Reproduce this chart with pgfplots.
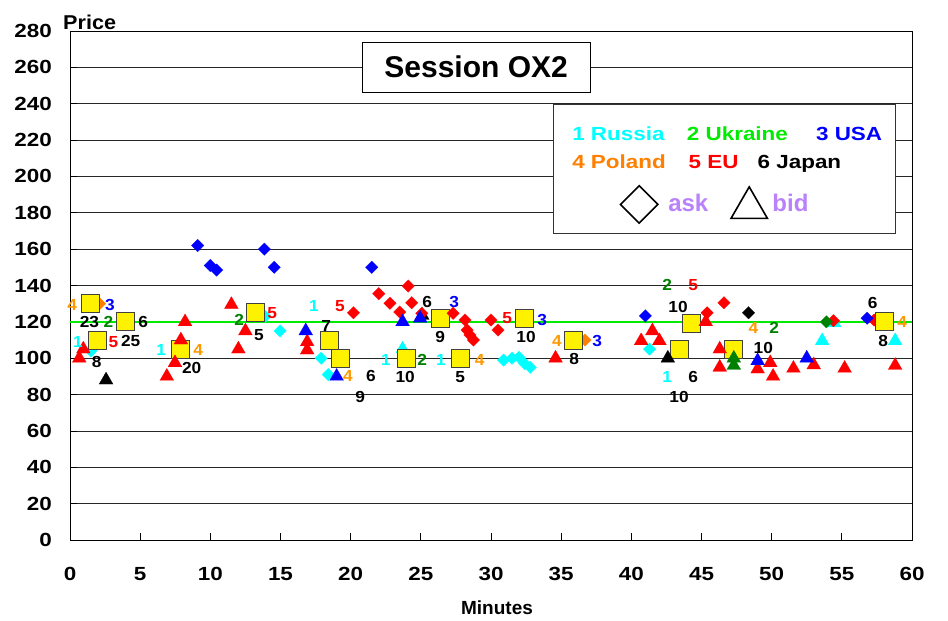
\documentclass[border=0pt]{standalone}
\usepackage{fontspec}
\setmainfont{Liberation Sans}
\newfontfamily\wideA{Liberation Sans}[FakeStretch=1.18]
\newfontfamily\wideB{Liberation Sans}[FakeStretch=1.08]
\usepackage{pgfplots}
\pgfplotsset{compat=1.18}
\usetikzlibrary{shapes.geometric}
\definecolor{cRu}{RGB}{0,255,255}
\definecolor{cUkL}{RGB}{0,235,0}
\definecolor{cUk}{RGB}{0,128,0}
\definecolor{cUS}{RGB}{0,0,255}
\definecolor{cPlL}{RGB}{255,128,0}
\definecolor{cPl}{RGB}{255,153,0}
\definecolor{cEU}{RGB}{255,0,0}
\definecolor{cLav}{RGB}{185,130,250}
\definecolor{cLine}{RGB}{0,235,0}
\pgfplotsset{
  lbl/.style={draw=none, mark=none, nodes near coords, point meta=explicit symbolic,
    every node near coord/.append style={anchor=center, inner sep=0pt,
      font=\wideB\fontsize{16}{18}\selectfont\bfseries, text=#1}},
  dia/.style={only marks, mark=square*, mark size=4.4pt,
    mark options={rotate=45, fill=#1, draw=#1, line width=0.2pt}},
  tri/.style={only marks, mark=triangle*, mark size=8pt,
    mark options={fill=#1, draw=#1, line width=0.2pt}},
}
\begin{document}
\begin{tikzpicture}
\begin{axis}[
  name=ax,
  scale only axis, width=842pt, height=509pt,
  xmin=0, xmax=60, ymin=0, ymax=280,
  xtick={0,5,...,60}, ytick={0,20,...,280},
  tick pos=left, tick align=inside, major tick length=7pt,
  tick style={black, line width=0.7pt},
  ymajorgrids, grid style={black!85, line width=0.7pt},
  axis line style={black, line width=0.8pt},
  clip=false,
  /pgf/number format/assume math mode=true,
  tick label style={font=\wideA\fontsize{19}{22}\selectfont\bfseries, inner sep=0pt},
  xticklabel style={anchor=north, yshift=-27pt},
  yticklabel style={anchor=east, xshift=-18pt},
  xlabel={Minutes},
  every axis x label/.style={at={(rel axis cs:0.5,0)}, anchor=center, yshift=-68pt, xshift=6pt,
    font=\fontsize{19}{22}\selectfont\bfseries},
  ylabel={Price},
  every axis y label/.style={at={(rel axis cs:0,1)}, anchor=base west, xshift=-7pt, yshift=1pt,
    inner sep=0pt, font=\wideB\fontsize{20}{24}\selectfont\bfseries},
]
% reference line
\addplot[cLine, line width=2pt] coordinates {(0,120) (60,120)};

% markers partly hidden behind squares
\addplot[dia=cPlL] coordinates {(2.1,130) (36.7,110)};
\addplot[dia=cRu] coordinates {(1.5,104) (13.9,123) (14.97,115) (17.9,100) (18.4,91)
  (30.9,99) (31.5,100) (32.0,100.5) (32.4,97) (32.8,95) (41.3,105)};
\addplot[tri=cRu] coordinates {(23.7,105) (53.6,109.6) (54.45,119.5) (58.8,109.6)};
\addplot[dia=cEU] coordinates {(57.3,121)};
\addplot[tri=black] coordinates {(25.1,123.5)};

% trades (squares)
\addplot[only marks, mark=square*, mark size=9pt,
  mark options={fill=yellow, draw=black!75, line width=0.8pt}] coordinates {
  (1.43,130) (1.96,110) (3.96,120) (7.84,105) (13.2,125) (18.5,110) (19.3,100)
  (23.95,100) (26.4,122) (27.8,100) (32.4,122) (35.9,110) (43.4,105) (44.3,119)
  (47.3,105) (58.0,120)};

% asks (diamonds)
\addplot[dia=cUS] coordinates {(9.1,162) (10.0,151) (10.45,148.5) (13.85,160) (14.55,150)
  (21.5,150) (41.0,123.3) (56.8,122)};
\addplot[dia=cEU] coordinates {(20.2,125) (22.0,135.5) (22.8,130.2) (23.5,125.4) (24.1,139.7)
  (24.35,130.5) (25.07,124.7) (27.3,124.7) (28.15,121) (28.3,115.5) (28.5,112.8)
  (28.75,110) (30.0,121) (30.5,115.5) (45.4,125) (46.6,130.5) (54.4,120.6)};
\addplot[dia=cUk] coordinates {(53.9,120)};
\addplot[dia=black] coordinates {(48.35,125)};

% bids (triangles)
\addplot[tri=cEU] coordinates {(0.66,100) (0.95,105) (6.9,90) (7.48,97.5) (7.9,110) (8.2,120)
  (11.5,129.5) (12.0,105) (12.5,115) (16.9,109) (16.9,104.5) (34.6,100) (40.7,109.6)
  (41.5,115) (42.0,109.6) (45.3,120) (46.3,105) (46.3,95) (49.0,94) (49.9,97.5)
  (50.1,90) (51.55,94.4) (53.0,96.3) (55.2,94.4) (58.8,96)};
\addplot[tri=cUS] coordinates {(16.8,115) (19.0,90) (23.7,120) (24.95,122) (49.0,98.6) (52.5,100)};
\addplot[tri=cUk] coordinates {(47.3,100) (47.3,96)};
\addplot[tri=black] coordinates {(2.57,88) (42.6,100)};

% labels
\addplot[lbl=cRu] table[meta=l] {
x y l
0.57 108.9 1
6.49 104.5 1
17.39 128.7 1
22.52 99 1
26.44 99 1
42.55 89.7 1
};
\addplot[lbl=cUk] table[meta=l] {
x y l
2.73 119.7 2
12.05 121 2
25.09 99 2
42.55 140.3 2
50.18 116.6 2
};
\addplot[lbl=cUS] table[meta=l] {
x y l
2.85 129.3 3
27.37 131 3
33.64 121 3
37.56 109.5 3
};
\addplot[lbl=cPl] table[meta=l] {
x y l
0.16 129.3 4
9.14 104.5 4
19.8 90.2 4
29.2 99 4
34.7 109.5 4
48.7 116.6 4
59.3 120 4
};
\addplot[lbl=cEU] table[meta=l] {
x y l
3.09 109.1 5
14.4 124.9 5
19.24 128.7 5
31.15 122 5
44.4 140.3 5
};
\addplot[lbl=black] table[meta=l] {
x y l
1.38 120.1 23
5.22 119.7 6
4.32 109.5 25
1.9 98 8
8.67 94.4 20
13.47 112.8 5
18.25 117.7 7
21.45 90.2 6
20.67 78.7 9
25.45 131 6
26.37 111.7 9
23.88 89.7 10
27.8 89.7 5
32.5 111.7 10
35.92 99.6 8
43.33 128.2 10
44.4 89.7 6
43.4 78.7 10
49.4 105.6 10
57.2 130.4 6
57.95 109.5 8
};

% title box
\node[draw=black, fill=white, line width=0.8pt, minimum width=228pt, minimum height=50pt,
  inner sep=0pt, font=\fontsize{30}{36}\selectfont\bfseries] at (axis cs:28.94,260.2) {Session OX2};

% legend box
\node[draw=black!80, fill=white, line width=0.8pt, minimum width=342pt, minimum height=129pt,
  inner sep=0pt] at (axis cs:46.6,204.3) {};
\begin{scope}[every node/.style={inner sep=0pt, anchor=base west,
    font=\wideA\fontsize{19}{22}\selectfont\bfseries}]
\node[text=cRu] at (axis cs:35.78,220.0) {1 Russia};
\node[text=cUkL] at (axis cs:43.95,220.0) {2 Ukraine};
\node[text=cUS] at (axis cs:53.15,220.0) {3 USA};
\node[text=cPlL] at (axis cs:35.78,204.5) {4 Poland};
\node[text=cEU] at (axis cs:44.07,204.5) {5 EU};
\node[text=black] at (axis cs:48.99,204.5) {6 Japan};
\node[text=cLav, font=\fontsize{24}{28}\selectfont\bfseries] at (axis cs:42.62,180.6) {ask};
\node[text=cLav, font=\fontsize{24}{28}\selectfont\bfseries] at (axis cs:50.04,180.6) {bid};
\end{scope}
\node[draw=black, diamond, line width=1.6pt, minimum width=38pt, minimum height=38pt,
  inner sep=0pt] at (axis cs:40.56,184.6) {};
\node[draw=black, regular polygon, regular polygon sides=3, line width=1.6pt,
  minimum size=42pt, inner sep=0pt] at (axis cs:48.4,182.7) {};
\end{axis}
\pgfresetboundingbox
\path[use as bounding box] ([xshift=-70pt,yshift=-80pt]ax.south west)
  rectangle ([xshift=36pt,yshift=31pt]ax.north east);
\end{tikzpicture}
\end{document}
